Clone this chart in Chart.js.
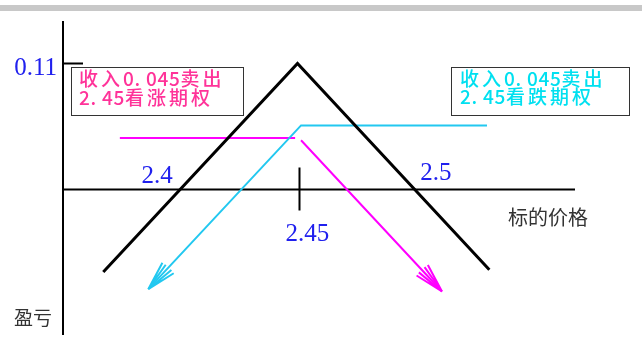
<!DOCTYPE html>
<html><head><meta charset="utf-8">
<script src="https://cdn.jsdelivr.net/npm/chart.js@4.4.0/dist/chart.umd.min.js"></script>
<style>html,body{margin:0;padding:0;background:#fff;}#wrap{position:relative;width:642px;height:343px;}</style>
</head><body><div id="wrap"><canvas id="c"></canvas></div>
<script>
// ---- data ----
const priceTicks = [2.4, 2.45, 2.5];
const priceLabels = ['2.4', '2.45', '2.5'];
const profitTicks = [0.11];
const profitLabels = ['0.11'];
const straddleX = [2.368, 2.45, 2.531];
const straddleY = [-0.072, 0.11, -0.070];
const shortCallX = [2.375, 2.449, 2.450, 2.4515, 2.511];
const shortCallY = [0.045, 0.045, null, 0.043, -0.089];
const shortPutX = [2.530, 2.4515, 2.387];
const shortPutY = [0.056, 0.056, -0.087];
const callNote = ['收入0.045卖出', '2.45看涨期权'];
const putNote = ['收入0.045卖出', '2.45看跌期权'];
const xAxisTitle = '标的价格';
const yAxisTitle = '盈亏';

const pts = (xs, ys) => xs.map((x, i) => ({x: x, y: ys[i]}));

const CJK_FONT = '"Noto Sans CJK SC", "Noto Sans CJK JP", sans-serif';
function drawMono(ctx, text, x, y, cjkAdv, halfAdv) {
  let cx = x;
  for (const ch of text) {
    ctx.fillText(ch, cx, y);
    cx += (ch.charCodeAt(0) > 255) ? cjkAdv : halfAdv;
  }
}

const decor = {
  id: 'decor',
  beforeDraw(chart) {
    const ctx = chart.ctx;
    ctx.save();
    ctx.fillStyle = '#fff';
    ctx.fillRect(0, 0, chart.width, chart.height);
    ctx.fillStyle = '#c8c8c8';
    ctx.fillRect(0, 5, chart.width, 6);
    ctx.restore();
  },
  beforeDatasetsDraw(chart) {
    const ctx = chart.ctx, xs = chart.scales.x, ys = chart.scales.y, ca = chart.chartArea;
    const y0 = ys.getPixelForValue(0);
    ctx.save();
    ctx.strokeStyle = '#000';
    ctx.lineWidth = 2;
    ctx.beginPath();
    ctx.moveTo(ca.left, y0); ctx.lineTo(ca.right - 2, y0);
    ctx.moveTo(ca.left, ca.top + 1); ctx.lineTo(ca.left, ca.bottom);
    const yt = ys.getPixelForValue(profitTicks[0]);
    ctx.moveTo(ca.left, yt); ctx.lineTo(ca.left + 20, yt);
    const xt = xs.getPixelForValue(priceTicks[1]) + 2;
    ctx.moveTo(xt, y0 - 22); ctx.lineTo(xt, y0 + 21);
    ctx.stroke();
    ctx.restore();
  },
  afterDraw(chart) {
    const ctx = chart.ctx, xs = chart.scales.x, ys = chart.scales.y, ca = chart.chartArea;
    const y0 = ys.getPixelForValue(0);
    ctx.save();
    [1, 2].forEach(di => {
      const meta = chart.getDatasetMeta(di);
      const n = meta.data.length;
      const tip = meta.data[n - 1], prev = meta.data[n - 2];
      const ang = Math.atan2(prev.y - tip.y, prev.x - tip.x);
      ctx.strokeStyle = chart.data.datasets[di].borderColor;
      ctx.lineWidth = 2;
      ctx.beginPath();
      [-0.26, -0.13, 0.13, 0.26].forEach(d => {
        ctx.moveTo(tip.x, tip.y);
        ctx.lineTo(tip.x + 30 * Math.cos(ang + d), tip.y + 30 * Math.sin(ang + d));
      });
      ctx.stroke();
    });
    ctx.fillStyle = '#2020ee';
    ctx.font = '25px "Liberation Serif", serif';
    ctx.textBaseline = 'alphabetic';
    ctx.textAlign = 'right';
    ctx.fillText(profitLabels[0], ca.left - 6, ys.getPixelForValue(profitTicks[0]) + 11);
    ctx.textAlign = 'center';
    ctx.fillText(priceLabels[0], xs.getPixelForValue(priceTicks[0]) - 22, y0 - 7);
    ctx.fillText(priceLabels[1], xs.getPixelForValue(priceTicks[1]) + 10, y0 + 51);
    ctx.fillText(priceLabels[2], xs.getPixelForValue(priceTicks[2]) + 20, y0 - 10);
    ctx.fillStyle = '#333';
    ctx.textAlign = 'left';
    ctx.font = '20px ' + CJK_FONT;
    ctx.fillText(xAxisTitle, 508, 225);
    ctx.font = '19px ' + CJK_FONT;
    ctx.fillText(yAxisTitle, 14, 325);
    ctx.strokeStyle = '#333';
    ctx.lineWidth = 1;
    ctx.strokeRect(71.5, 67.5, 172, 48);
    ctx.strokeRect(451.5, 67.5, 178, 48);
    ctx.font = '500 19px ' + CJK_FONT;
    ctx.fillStyle = '#ff3399';
    drawMono(ctx, callNote[0], 79, 86, 22, 11.5);
    drawMono(ctx, callNote[1], 79, 105, 22, 11.5);
    ctx.fillStyle = '#00e0f0';
    drawMono(ctx, putNote[0], 460, 86, 22, 11.5);
    drawMono(ctx, putNote[1], 460, 104, 22, 11.5);
    ctx.restore();
  }
};

new Chart(document.getElementById('c'), {
  type: 'scatter',
  data: {
    datasets: [
      {label: 'straddle', data: pts(straddleX, straddleY), showLine: true, borderColor: '#000', borderWidth: 3, pointRadius: 0, tension: 0},
      {label: 'shortPut', data: pts(shortPutX, shortPutY), showLine: true, borderColor: '#22c8f0', borderWidth: 2, pointRadius: 0, tension: 0},
      {label: 'shortCall', data: pts(shortCallX, shortCallY), showLine: true, spanGaps: false, borderColor: '#ff00ff', borderWidth: 2, pointRadius: 0, tension: 0}
    ]
  },
  options: {
    responsive: true,
    maintainAspectRatio: false,
    animation: false,
    layout: {padding: {left: 63, right: 65, top: 20, bottom: 8}},
    plugins: {legend: {display: false}, tooltip: {enabled: false}},
    scales: {
      x: {type: 'linear', min: 2.351, max: 2.568, display: false},
      y: {type: 'linear', min: -0.127, max: 0.148, display: false}
    }
  },
  plugins: [decor]
});
</script>
</body></html>
